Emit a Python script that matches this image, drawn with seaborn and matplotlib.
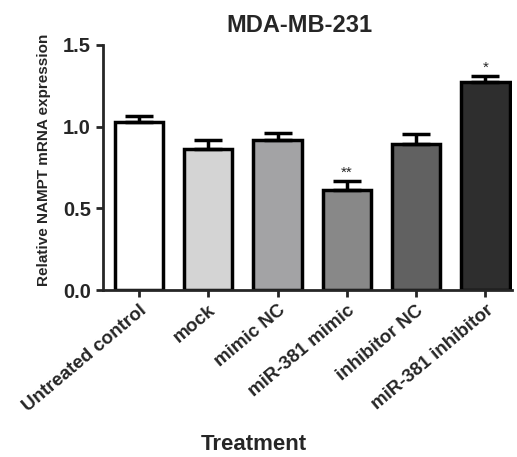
import numpy as np
import pandas as pd
import seaborn as sns
import matplotlib.pyplot as plt

treatments = ["Untreated control", "mock", "mimic NC", "miR-381 mimic",
              "inhibitor NC", "miR-381 inhibitor"]
means = [1.03, 0.86, 0.915, 0.61, 0.895, 1.27]
sems = [0.035, 0.06, 0.043, 0.057, 0.057, 0.04]
stars = ["", "", "", "**", "", "*"]
colors = ["#ffffff", "#d4d4d4", "#a2a2a6", "#888888", "#616161", "#2e2e2e"]

sns.set_style("ticks")
plt.rcParams['font.family'] = ['Liberation Sans', 'DejaVu Sans']
plt.rcParams['font.weight'] = 'bold'

df = pd.DataFrame({"Treatment": treatments, "value": means})

fig = plt.figure(figsize=(5.17, 4.57), dpi=100)
ax = fig.add_axes([0.199, 0.365, 0.791, 0.537])

sns.barplot(data=df, x="Treatment", y="value", hue="Treatment",
            palette=colors, edgecolor="black", linewidth=2.5,
            width=0.7, legend=False, ax=ax)

x = np.arange(len(treatments))
ax.errorbar(x, means, yerr=[np.zeros(len(sems)), sems], fmt="none",
            ecolor="black", elinewidth=2.5, capsize=10, capthick=2.5, zorder=1)

for xi, m, s, st in zip(x, means, sems, stars):
    if st:
        ax.text(xi, m + s + 0.005, st, ha="center", va="bottom",
                fontsize=11, fontweight="normal")

ax.set_ylim(0, 1.5)
ax.set_xlim(-0.52, 5.38)
ax.set_yticks([0, 0.5, 1.0, 1.5])
ax.set_yticklabels(["0.0", "0.5", "1.0", "1.5"], fontsize=14.5, fontweight="bold")
ax.set_xticks(x)
ax.set_xticklabels(treatments, rotation=40, ha="right", rotation_mode="anchor",
                   fontsize=13.5, fontweight="bold")
ax.set_ylabel("Relative NAMPT mRNA expression", fontsize=11, fontweight="bold")
ax.yaxis.set_label_coords(-0.128, 0.53)
ax.set_xlabel("Treatment", fontsize=16, fontweight="bold")
ax.xaxis.set_label_coords(0.37, -0.585)
ax.set_title("MDA-MB-231", fontsize=17, fontweight="bold", x=0.48, pad=9)

sns.despine(ax=ax)
for sp in ["left", "bottom"]:
    ax.spines[sp].set_linewidth(2)
ax.tick_params(width=2, length=5, direction="out")

fig.savefig("out.png", dpi=100)
